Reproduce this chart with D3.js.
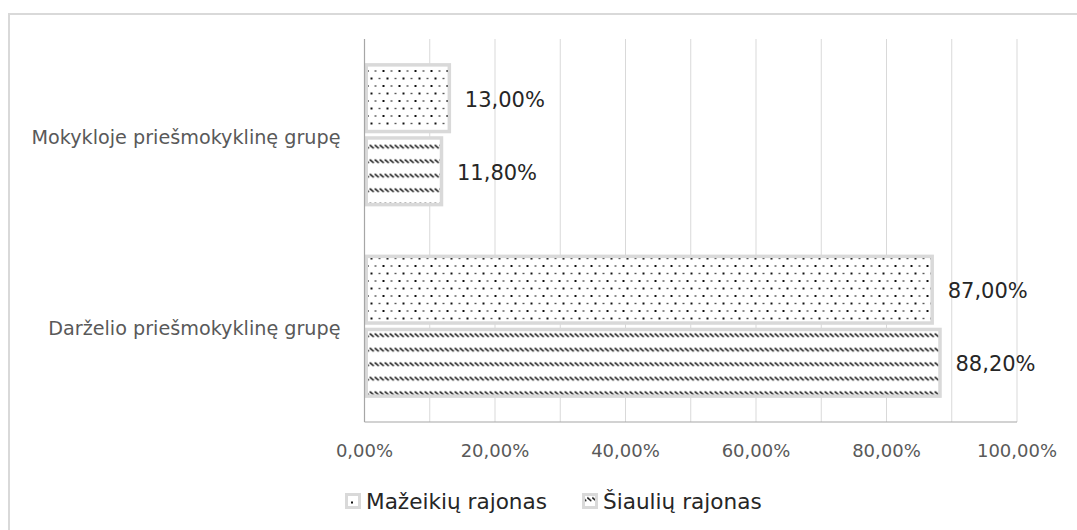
<!DOCTYPE html>
<html>
<head>
<meta charset="utf-8">
<script src="https://cdn.jsdelivr.net/npm/d3@7"></script>
<style>
  body { margin: 0; background: #fff; }
  text { font-family: "DejaVu Sans", "Noto Sans", sans-serif; }
</style>
</head>
<body>
<svg id="chart"></svg>
<script>
const width = 1077;
const height = 530;
const MARGIN = { top: 39, right: 60, bottom: 108, left: 364.5 };

// data
const categories = ['Mokykloje priešmokyklinę grupę', 'Darželio priešmokyklinę grupę'];
const seriesNames = ['Mažeikių rajonas', 'Šiaulių rajonas'];
const mazeikiai = [13.0, 87.0];
const siauliai = [11.8, 88.2];
const xTicks = [0, 20, 40, 60, 80, 100];

const fmt = (v) => v.toFixed(2).replace('.', ',') + '%';

const svg = d3.select('#chart').attr('width', width).attr('height', height);

// fill patterns
const defs = svg.append('defs');
const dots = defs.append('pattern')
  .attr('id', 'dots')
  .attr('patternUnits', 'userSpaceOnUse')
  .attr('width', 16).attr('height', 15);
dots.append('rect').attr('width', 16).attr('height', 15).attr('fill', '#fff');
[[3, 2, 2], [11, 2, 1.4], [7, 9.5, 2], [15, 9.5, 1.4]].forEach(([cx, cy, s]) => {
  dots.append('rect').attr('x', cx - s / 2).attr('y', cy - s / 2)
    .attr('width', s).attr('height', s).attr('fill', '#111');
});

const hatch = defs.append('pattern')
  .attr('id', 'hatch')
  .attr('patternUnits', 'userSpaceOnUse')
  .attr('width', 5).attr('height', 14.5);
hatch.append('rect').attr('width', 5).attr('height', 14.5).attr('fill', '#fff');
hatch.append('line')
  .attr('x1', 0.3).attr('y1', 4.5).attr('x2', 4.3).attr('y2', 8)
  .attr('stroke', '#111').attr('stroke-width', 1.5);

// chart frame
svg.append('rect')
  .attr('x', 9).attr('y', 14)
  .attr('width', width + 20).attr('height', height + 20)
  .attr('fill', 'none').attr('stroke', '#d9d9d9').attr('stroke-width', 2);

const innerW = 1017 - MARGIN.left;
const innerH = 422 - MARGIN.top;

const g = svg.append('g')
  .attr('transform', 'translate(' + MARGIN.left + ',' + MARGIN.top + ')');

const x = d3.scaleLinear().domain([0, 100]).range([0, innerW]);
const y0 = d3.scaleBand().domain(categories).range([0, innerH]);
const y1 = d3.scaleBand().domain(seriesNames)
  .range([0, y0.bandwidth()]).paddingOuter(0.33).paddingInner(0.04);

// gridlines
g.selectAll('line.grid')
  .data(d3.range(10, 101, 10))
  .join('line')
  .attr('class', 'grid')
  .attr('x1', (d) => x(d)).attr('x2', (d) => x(d))
  .attr('y1', 0).attr('y2', innerH)
  .attr('stroke', '#d9d9d9').attr('stroke-width', 1);

// bars
const rows = [];
categories.forEach((c, i) => {
  rows.push({ cat: c, series: seriesNames[0], value: mazeikiai[i], fill: 'url(#dots)' });
  rows.push({ cat: c, series: seriesNames[1], value: siauliai[i], fill: 'url(#hatch)' });
});

const bw = 3.5;
g.selectAll('rect.bar')
  .data(rows)
  .join('rect')
  .attr('class', 'bar')
  .attr('x', x(0) + bw / 2)
  .attr('y', (d) => y0(d.cat) + y1(d.series) + bw / 2)
  .attr('width', (d) => x(d.value) - x(0) - bw / 2)
  .attr('height', y1.bandwidth() - bw)
  .attr('fill', (d) => d.fill)
  .attr('stroke', '#d9d9d9')
  .attr('stroke-width', bw);

// value labels
g.selectAll('text.value')
  .data(rows)
  .join('text')
  .attr('class', 'value')
  .attr('x', (d) => x(d.value) + 15.5)
  .attr('y', (d) => y0(d.cat) + y1(d.series) + y1.bandwidth() / 2 + 1)
  .attr('dy', '0.36em')
  .attr('font-size', 21)
  .attr('fill', '#262626')
  .text((d) => fmt(d.value));

// axes lines
g.append('line')
  .attr('x1', 0).attr('x2', innerW).attr('y1', innerH).attr('y2', innerH)
  .attr('stroke', '#a6a6a6').attr('stroke-width', 1.2);
g.append('line')
  .attr('x1', 0).attr('x2', 0).attr('y1', 0).attr('y2', innerH)
  .attr('stroke', '#a6a6a6').attr('stroke-width', 1.2);

// tick labels
g.selectAll('text.tick')
  .data(xTicks)
  .join('text')
  .attr('class', 'tick')
  .attr('x', (d) => x(d))
  .attr('y', innerH + 29)
  .attr('dy', '0.36em')
  .attr('text-anchor', 'middle')
  .attr('font-size', 18)
  .attr('fill', '#595959')
  .text((d) => fmt(d));

// category labels
g.selectAll('text.cat')
  .data(categories)
  .join('text')
  .attr('class', 'cat')
  .attr('x', -24)
  .attr('y', (d) => y0(d) + y0.bandwidth() / 2 + 2)
  .attr('dy', '0.36em')
  .attr('text-anchor', 'end')
  .attr('font-size', 19.2)
  .attr('fill', '#595959')
  .text((d) => d);

// legend
const legendItems = [
  { name: seriesNames[0], fill: 'url(#dots)', x: 345 },
  { name: seriesNames[1], fill: 'url(#hatch)', x: 582 }
];
const lg = svg.selectAll('g.legend')
  .data(legendItems)
  .join('g')
  .attr('class', 'legend')
  .attr('transform', (d) => 'translate(' + d.x + ',' + 493 + ')');
lg.append('rect')
  .attr('x', 1.5).attr('y', 1.5).attr('width', 13).attr('height', 13)
  .attr('fill', (d) => d.fill)
  .attr('stroke', '#d9d9d9').attr('stroke-width', 3);
lg.append('text')
  .attr('x', 21).attr('y', 8)
  .attr('dy', '0.36em')
  .attr('font-size', 21.6)
  .attr('fill', '#262626')
  .text((d) => d.name);
</script>
</body>
</html>
